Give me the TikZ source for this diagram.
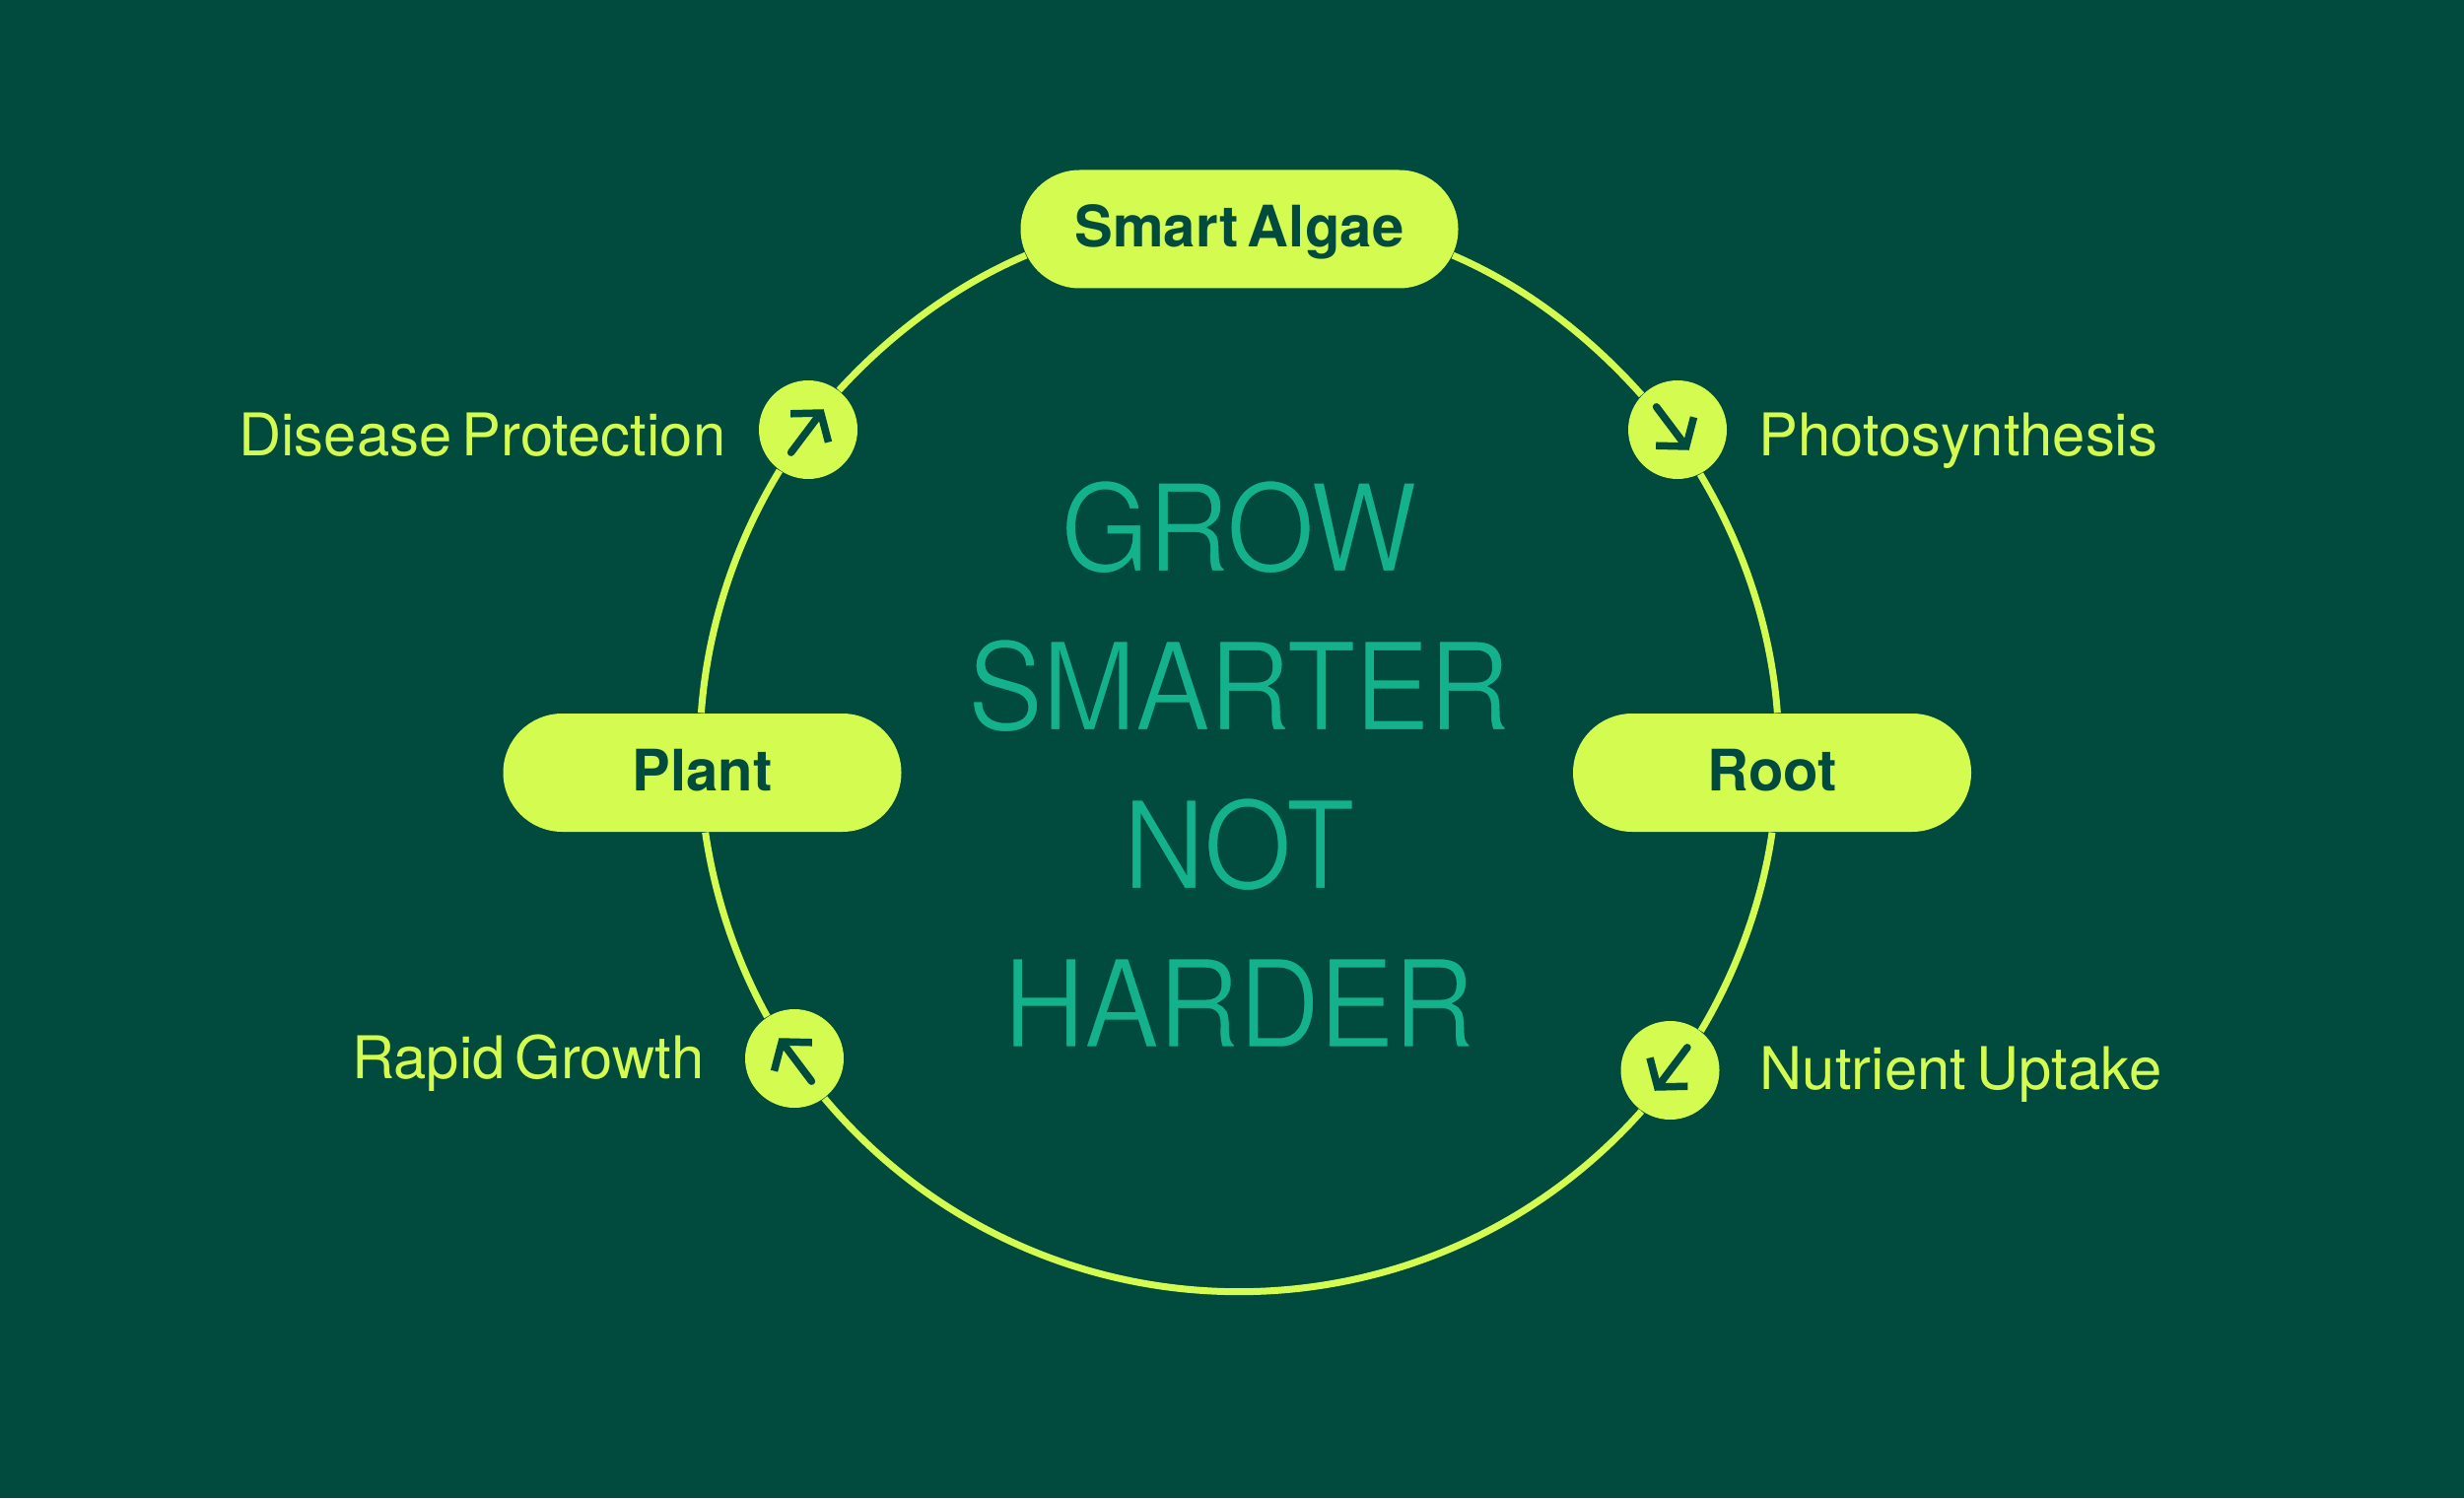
\documentclass[tikz,border=0pt]{standalone}
\usepackage{fontspec}
\setmainfont[LetterSpace=0.1, WordSpace=0.6]{TeX Gyre Heros}
\newfontfamily\lightfont[FakeStretch=0.93, LetterSpace=-1.2, FakeBold=1.5]{TeX Gyre Heros}
\newcommand\slimstroke{\special{pdf:code 0 .29 .243 RG}}
\usetikzlibrary{arrows.meta, shapes.misc, backgrounds}
\definecolor{cdeep}{HTML}{004A3E}
\definecolor{clime}{HTML}{D4FB50}
\definecolor{cteal}{HTML}{14B28C}
\tikzset{
  pill/.style={rounded rectangle, fill=clime, text=cdeep, minimum width=#1, minimum height=1.2cm, inner sep=0pt, text height=.46cm, text depth=.1cm, font=\fontsize{16.5}{20}\selectfont\bfseries},
  dot/.style={circle, fill=clime, minimum size=1cm, inner sep=0pt},
  caption/.style={text=clime, inner sep=0pt, font=\fontsize{17}{20}\selectfont},
  slogan/.style={text=cteal, align=center, inner sep=0pt, font=\lightfont\fontsize{35.2}{45.8}\selectfont},
  ringarc/.style={draw=clime, line width=.7mm},
  glyph/.style={-{Straight Barb[length=1.9mm, width=4.8mm]}, draw=cdeep, line width=.75mm, line cap=round},
}
\begin{document}
\begin{tikzpicture}
  \useasboundingbox (0,0) rectangle (25,15.2);
  % stations on the ring
  \node[pill=4.44cm] (algae) at (12.575,12.875) {Smart Algae};
  \node[pill=4.04cm] (root) at (17.98,7.36) {Root};
  \node[pill=4.04cm] (plant) at (7.125,7.36) {Plant};
  \node[dot] (photo) at (17.02,10.84) {};
  \node[dot] (nutrient) at (16.945,4.34) {};
  \node[dot] (rapid) at (8.06,4.46) {};
  \node[dot] (disease) at (8.20,10.84) {};
  % captions
  \node[caption, anchor=base west] (photolabel) at (17.84,10.58) {Photosynthesis};
  \node[caption, anchor=base west] (nutrientlabel) at (17.85,4.15) {Nutrient Uptake};
  \node[caption, anchor=base east] (rapidlabel) at (7.15,4.26) {Rapid Growth};
  \node[caption, anchor=base east] (diseaselabel) at (7.37,10.58) {Disease Protection};
  % centre text
  \node[slogan] (motto) at (12.57,7.45) {\slimstroke GROW\\SMARTER\\NOT\\HARDER};
  % ring, clockwise
  \begin{scope}[on background layer]
    \fill[cdeep] (0,0) rectangle (25,15.2);
    \draw[ringarc] (algae.-7.4) to[out=-23.2, in=131.7, looseness=.855] (photo.136);
    \draw[ringarc] (photo.-63) to[out=-59, in=94.2, looseness=.86] (root.85.6);
    \draw[ringarc] (root.south) to[out=-98.3, in=59.1, looseness=.85] (nutrient.52);
    \draw[ringarc] (nutrient.235) to[out=-131.7, in=-50, looseness=1.03] (rapid.-53);
    \draw[ringarc] (rapid.123.4) to[out=119, in=-81.7, looseness=.85] (plant.-87);
    \draw[ringarc] (plant.91.5) to[out=85.8, in=-121.4, looseness=.86] (disease.235.7);
    \draw[ringarc] (disease.52) to[out=47.6, in=203, looseness=.85] (algae.187.4);
  \end{scope}
  % arrows inside the dots
  \foreach \n/\a/\d in {photo/-53/-.04, nutrient/233/0, rapid/127/0, disease/53/0}
    \draw[glyph, shift={(\n)}, xshift=\d cm, rotate=\a] (-.29,0) -- (.26,0);
\end{tikzpicture}
\end{document}
